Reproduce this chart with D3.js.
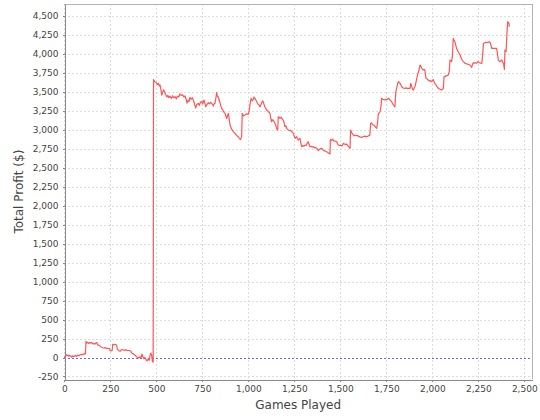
<!DOCTYPE html>
<html><head><meta charset="utf-8">
<script src="https://cdn.jsdelivr.net/npm/d3@7/dist/d3.min.js"></script>
<style>
html,body{margin:0;padding:0;background:#fff;}
svg{display:block;}
text{font-family:"DejaVu Sans",sans-serif;}
</style></head>
<body><svg id="c" width="540" height="420"></svg>
<script>
const xTicks = [0,250,500,750,1000,1250,1500,1750,2000,2250,2500];
const yTicks = [-250,0,250,500,750,1000,1250,1500,1750,2000,2250,2500,2750,3000,3250,3500,3750,4000,4250,4500];
const xLabel = "Games Played";
const yLabel = "Total Profit ($)";

const games = [
0,5,9,14,20,25,30,35,40,45,50,55,61,67,73,79,86,93,101,109,115,118,122,127,132,137,143,149,155,161,166,171,177,180,185,190,194,200,207,214,222,230,238,246,249,254,260,263,270,277,284,288,293,299,303,308,315,323,333,343,353,361,367,373,381,388,393,399,405,412,418,422,426,432,438,444,450,456,462,467,471,475,479,483,485,
492,499,506,511,516,520,525,530,535,539,545,551,557,563,568,575,582,589,595,602,609,615,622,628,635,643,650,656,662,667,673,678,683,690,696,701,708,714,720,728,734,740,746,752,759,765,769,775,783,789,795,801,807,810,815,819,824,828,832,837,843,849,855,861,867,874,879,883,888,892,896,901,907,913,920,928,934,940,946,952,958,964,967,974,982,991,999,1004,1009,1015,1021,1027,1031,1036,
1041,1046,1052,1058,1064,1072,1077,1081,1086,1090,1095,1099,1105,1109,1114,1118,1122,1127,1131,1136,1141,1145,1150,1154,1158,1160,1163,1168,1172,1178,1184,1190,1195,1199,1205,1210,1218,1225,1231,1236,1241,1245,1249,1254,1259,1263,1267,1272,1277,1281,1286,1290,1296,1302,1308,1314,1320,1326,1331,1336,1342,1348,1354,1360,1366,1372,1377,1381,1386,1392,1399,1404,1408,1414,1420,1426,1432,1438,1444,1446,1453,1458,1463,1469,1475,1481,1486,1490,1496,1502,1508,1513,1517,1523,1529,1535,1541,1547,1553,1556,1562,1567,1572,1580,1589,1598,1607,1616,1625,1634,1644,1654,1661,1665,1670,1675,1679,1687,1693,1698,1703,1707,1712,1716,1721,1725,1731,1737,1743,1749,1755,1761,1767,1773,1779,1785,1791,1797,1802,1806,1811,1816,1821,1825,1829,1834,1840,1846,1852,1858,1864,1871,1879,1883,1888,1893,1897,1901,1906,1911,1916,1921,1925,1929,1934,1939,1943,1947,1951,1956,1960,1963,1966,1972,1978,1984,1990,1996,2001,2005,2010,2014,2020,2026,2033,2039,2045,2051,2056,2060,2064,2069,2074,2078,2083,2087,2092,2096,2101,2105,2109,2111,2114,2118,2123,2128,2132,2136,2141,2147,2151,2156,2160,2164,2169,2174,2178,2184,2190,2196,2201,2205,2210,2214,2219,2223,2229,2235,2241,2245,2250,2255,2262,2269,2274,2278,2284,2290,2296,2302,2308,2314,2319,2323,2330,2337,2343,2350,2354,2359,2364,2368,2373,2378,2382,2387,2390,2392,2395,2398,2401,2403,2405,2407,2410,2413,2417,2419];

const profit = [
-10,20,40,25,30,15,28,20,5,22,10,18,25,15,30,22,35,40,38,50,48,215,190,200,185,195,190,200,178,185,175,190,198,170,165,160,150,140,128,125,130,118,122,115,92,88,90,172,168,172,165,110,100,85,82,98,105,95,100,95,92,85,60,50,35,22,10,5,-8,10,0,45,20,-15,0,-30,-45,-20,-35,40,58,25,-55,-60,3660,
3630,3620,3595,3610,3575,3590,3530,3455,3490,3525,3500,3460,3432,3450,3420,3440,3410,3445,3420,3435,3405,3440,3430,3470,3450,3460,3430,3445,3400,3350,3390,3370,3425,3400,3420,3390,3340,3285,3330,3345,3320,3360,3370,3340,3390,3340,3300,3330,3355,3340,3360,3345,3330,3310,3345,3345,3420,3486,3440,3430,3380,3330,3280,3260,3230,3214,3170,3148,3190,3214,3140,3060,3020,2994,2970,2951,2930,2915,2906,2880,2872,2906,3214,3180,3192,3210,3200,3236,3330,3412,3380,3395,3430,3412,
3390,3367,3340,3324,3300,3346,3380,3367,3330,3301,3280,3258,3250,3236,3225,3214,3150,3104,3130,3126,3100,3082,3050,3016,3000,2994,3170,3160,3148,3165,3140,3126,3090,3038,3050,3010,2994,2985,2990,2972,2960,2951,2920,2885,2900,2907,2880,2863,2875,2885,2820,2775,2790,2780,2797,2790,2820,2841,2800,2775,2780,2770,2775,2760,2765,2753,2740,2722,2740,2750,2753,2740,2731,2720,2715,2709,2700,2690,2678,2870,2860,2875,2855,2850,2845,2841,2810,2797,2790,2795,2784,2800,2819,2810,2805,2810,2790,2770,2753,2994,2960,2940,2928,2920,2925,2915,2905,2897,2910,2915,2905,2920,2928,3082,3090,3070,3060,3050,3030,3016,3100,3214,3220,3236,3300,3412,3400,3395,3390,3400,3395,3412,3400,3385,3367,3340,3320,3301,3500,3540,3600,3631,3620,3609,3590,3565,3550,3545,3543,3550,3540,3545,3543,3609,3570,3530,3521,3545,3565,3620,3675,3730,3762,3800,3851,3830,3807,3795,3785,3790,3785,3720,3675,3665,3653,3640,3645,3631,3645,3660,3630,3609,3590,3565,3543,3535,3530,3521,3530,3543,3697,3697,3710,3706,3715,3719,3760,3917,3905,3895,3960,4048,4202,4180,4158,4110,4070,4050,4026,4000,3982,3950,3926,3910,3895,3885,3873,3870,3862,3860,3855,3851,3835,3820,3860,3882,3875,3880,3873,3890,3895,3880,3875,3873,3990,4136,4140,4150,4145,4150,4155,4150,4110,4070,4072,4068,4070,4070,4000,3917,3900,3895,3910,3917,3890,3873,3830,3794,4048,4035,4026,4120,4224,4320,4421,4410,4400,4355];

const svg = d3.select("#c");
const L = 64.3, R = 532, T = 4.3, B = 379;
const x = d3.scaleLinear().domain([0, 2542]).range([L, R]);
const y = d3.scaleLinear().domain([-283, 4650]).range([B, T]);
const fmt = v => d3.format(",")(v).replace("\u2212", "-");

svg.append("rect").attr("x", L).attr("y", T).attr("width", R - L).attr("height", B - T).attr("fill", "#fff");

// gridlines
const grid = svg.append("g").attr("stroke", "#dcdcdc").attr("stroke-width", 1).attr("stroke-dasharray", "2,2").attr("shape-rendering", "crispEdges");
grid.selectAll(".gx").data(xTicks).join("line")
  .attr("x1", d => Math.round(x(d)) + 0.5).attr("x2", d => Math.round(x(d)) + 0.5)
  .attr("y1", T).attr("y2", B);
grid.selectAll(".gy").data(yTicks).join("line")
  .attr("y1", d => Math.round(y(d)) + 0.5).attr("y2", d => Math.round(y(d)) + 0.5)
  .attr("x1", L).attr("x2", R);

// zero marker
svg.append("line").attr("x1", L).attr("x2", R)
  .attr("y1", Math.round(y(0)) + 0.5).attr("y2", Math.round(y(0)) + 0.5)
  .attr("stroke", "#6a6af0").attr("stroke-width", 1).attr("stroke-dasharray", "2,2").attr("shape-rendering", "crispEdges");

// outline top/right
svg.append("path").attr("d", `M${L},${T+0.5}H${R+0.5}V${B}`).attr("fill", "none").attr("stroke", "#b4b4b4").attr("stroke-width", 1).attr("shape-rendering", "crispEdges");

// series
const pts = games.map((g, i) => [g, profit[i]]);
const line = d3.line().x(d => x(d[0])).y(d => y(d[1]));
svg.append("path").datum(pts).attr("d", line)
  .attr("fill", "none").attr("stroke", "#ff5555").attr("stroke-width", 1.2).attr("stroke-linejoin", "round");

// axes
const yAxis = d3.axisLeft(y).tickValues(yTicks).tickSize(2).tickSizeOuter(0).tickPadding(4).tickFormat(fmt);
const gy = svg.append("g").attr("transform", `translate(${Math.round(L)+0.5},0)`).call(yAxis);
const xAxis = d3.axisBottom(x).tickValues(xTicks).tickSize(2).tickSizeOuter(0).tickPadding(4).tickFormat(fmt);
const gx = svg.append("g").attr("transform", `translate(0,${Math.round(B)+0.5})`).call(xAxis);
[gx, gy].forEach(g => {
  g.select(".domain").attr("stroke", "#888").attr("shape-rendering", "crispEdges");
  g.selectAll(".tick line").attr("stroke", "#888").attr("shape-rendering", "crispEdges");
  g.selectAll(".tick text").attr("fill", "#444").attr("font-size", "9px").attr("font-family", "DejaVu Sans, sans-serif");
});

svg.append("text").attr("x", (L + R) / 2).attr("y", 409).attr("text-anchor", "middle")
  .attr("font-size", "12px").attr("fill", "#444").text(xLabel);
svg.append("text").attr("transform", `translate(23,${(T + B) / 2}) rotate(-90)`).attr("text-anchor", "middle")
  .attr("font-size", "12px").attr("fill", "#444").text(yLabel);
</script></body></html>
